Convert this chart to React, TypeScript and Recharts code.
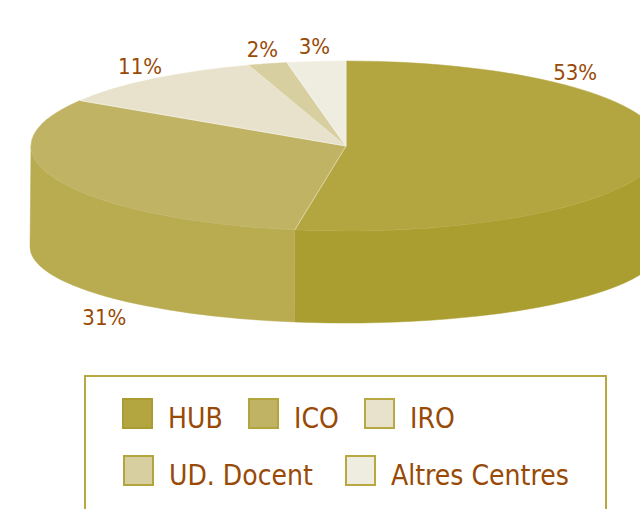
import React from 'react';
import { PieChart, Pie, Cell, Legend } from 'recharts';

const CATEGORIES = ['HUB', 'ICO', 'IRO', 'UD. Docent', 'Altres Centres'];
const VALUES = [52.6, 31.4, 11, 2, 3];
const LABELS = ['53%', '31%', '11%', '2%', '3%'];

const TOP_COLORS = ['#b3a53f', '#c0b464', '#e8e2cc', '#d8cfa1', '#efece0'];
const SIDE_COLORS = ['#ab9e30', '#b9ab50', '#ddd6b8', '#cfc590', '#e4e0cf'];
const LEGEND_BORDERS = ['#aa9c33', '#b3a53e', '#b8a842', '#b3a53e', '#b8a842'];
const TEXT_COLOR = '#984a06';
const FONT = '"DejaVu Sans Condensed", "DejaVu Sans", sans-serif';

const data = CATEGORIES.map((name, i) => ({ name, value: VALUES[i], label: LABELS[i], idx: i }));

// 3D projection settings
const TILT = 85 / 315;
const DEPTH = 101;
const RAD = Math.PI / 180;
// label placement overrides (angle in degrees) for the big slices
const LABEL_ANGLE_OVERRIDE: (number | null)[] = [47, -136, null, null, null];

// legend layout (rows / x offsets inside the box)
const LEGEND_LAYOUT = [
  { idx: 0, left: 36, top: 21 },
  { idx: 1, left: 162, top: 21 },
  { idx: 2, left: 278, top: 21 },
  { idx: 3, left: 37, top: 78 },
  { idx: 4, left: 259, top: 78 },
];

function pt(cx: number, cy: number, rx: number, ry: number, a: number): [number, number] {
  return [cx + rx * Math.cos(a * RAD), cy - ry * Math.sin(a * RAD)];
}

function Slice3D(props: any) {
  const { cx, cy, outerRadius, startAngle, endAngle } = props;
  const i: number = props.idx ?? props.payload?.idx ?? props.index ?? 0;
  const rx = outerRadius;
  const ry = outerRadius * TILT;
  const rxb = rx + 1;
  const ryb = ry - 9;
  const cyb = cy + DEPTH;
  const hi = Math.max(startAngle, endAngle);
  const lo = Math.min(startAngle, endAngle);
  const sides: [number, number][] = [];
  for (let m = -2; m <= 1; m++) {
    const a1 = Math.max(lo, -180 + 360 * m);
    const a2 = Math.min(hi, 360 * m);
    if (a2 - a1 > 0.01) sides.push([a1, a2]);
  }
  const sidePaths = sides.map(([a1, a2]) => {
    const t2 = pt(cx, cy, rx, ry, a2);
    const t1 = pt(cx, cy, rx, ry, a1);
    const b1 = pt(cx, cyb, rxb, ryb, a1);
    const b2 = pt(cx, cyb, rxb, ryb, a2);
    return `M${t2[0]},${t2[1]} A${rx},${ry} 0 0 1 ${t1[0]},${t1[1]} L${b1[0]},${b1[1]} A${rxb},${ryb} 0 0 0 ${b2[0]},${b2[1]} Z`;
  });
  const s = pt(cx, cy, rx, ry, startAngle);
  const e = pt(cx, cy, rx, ry, endAngle);
  const large = Math.abs(startAngle - endAngle) > 180 ? 1 : 0;
  const sweep = endAngle < startAngle ? 1 : 0;
  const topPath = `M${cx},${cy} L${s[0]},${s[1]} A${rx},${ry} 0 ${large} ${sweep} ${e[0]},${e[1]} Z`;
  return (
    <g>
      {sidePaths.map((d, k) => (
        <path key={k} d={d} fill={SIDE_COLORS[i]} stroke={SIDE_COLORS[i]} strokeWidth={0.5} />
      ))}
      <path d={topPath} fill={TOP_COLORS[i]} stroke={TOP_COLORS[i]} strokeWidth={0.5} />
      <path
        d={`M${s[0]},${s[1]} L${cx},${cy} L${e[0]},${e[1]}`}
        fill="none"
        stroke="#ffffff"
        strokeOpacity={0.35}
        strokeWidth={1}
      />
    </g>
  );
}

function renderLabel(props: any) {
  const { cx, cy, midAngle, outerRadius, index } = props;
  const rx = outerRadius;
  const ry = outerRadius * TILT;
  const override = LABEL_ANGLE_OVERRIDE[index];
  const a = override ?? midAngle;
  const lrx = rx + 21;
  let x: number, y: number;
  if (Math.sin(a * RAD) < 0) {
    [x, y] = pt(cx, cy + DEPTH, lrx, ry - 9 + 26, a);
  } else {
    [x, y] = pt(cx, cy, lrx, ry + 15, a);
  }
  return (
    <text
      x={x}
      y={y}
      textAnchor="middle"
      dominantBaseline="central"
      fill={TEXT_COLOR}
      fontFamily={FONT}
      fontSize={22}
    >
      {LABELS[index]}
    </text>
  );
}

function LegendBox() {
  return (
    <div
      style={{
        position: 'relative',
        width: 523,
        height: 150,
        boxSizing: 'border-box',
        border: '2px solid #b8a842',
        background: '#ffffff',
      }}
    >
      {LEGEND_LAYOUT.map(({ idx, left, top }) => (
        <div
          key={idx}
          style={{ position: 'absolute', left, top, display: 'flex', alignItems: 'center', whiteSpace: 'nowrap' }}
        >
          <div
            style={{
              width: 31,
              height: 31,
              boxSizing: 'border-box',
              background: TOP_COLORS[idx],
              border: `2px solid ${LEGEND_BORDERS[idx]}`,
            }}
          />
          <span
            style={{
              marginLeft: 15,
              fontFamily: FONT,
              fontSize: 28,
              lineHeight: '31px',
              color: TEXT_COLOR,
              transform: 'translateY(5px)',
              display: 'inline-block',
            }}
          >
            {CATEGORIES[idx]}
          </span>
        </div>
      ))}
    </div>
  );
}

export default function App() {
  return (
    <div style={{ position: 'absolute', left: 0, top: 0, width: 640, height: 509, overflow: 'hidden', background: '#fff' }}>
      <PieChart width={640} height={509} margin={{ top: 0, right: 0, bottom: 0, left: 0 }}>
        <Pie
          data={data}
          dataKey="value"
          nameKey="name"
          cx={346}
          cy={146}
          innerRadius={0}
          outerRadius={315}
          startAngle={90}
          endAngle={-270}
          stroke="none"
          isAnimationActive={false}
          shape={Slice3D}
          label={renderLabel}
          labelLine={false}
        >
          {data.map((d, i) => (
            <Cell key={d.name} fill={TOP_COLORS[i]} />
          ))}
        </Pie>
        <Legend
          content={() => <LegendBox />}
          wrapperStyle={{ position: 'absolute', left: 84, top: 375, width: 523, height: 150, margin: 0, padding: 0 }}
        />
      </PieChart>
    </div>
  );
}
